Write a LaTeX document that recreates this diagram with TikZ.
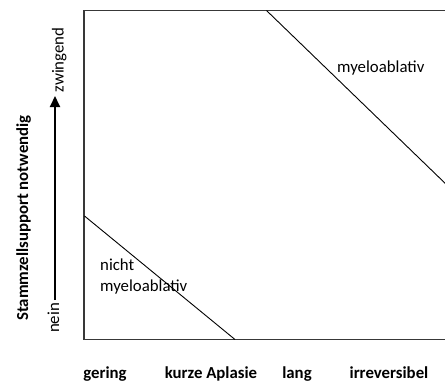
\documentclass[tikz,border=0pt]{standalone}
\usepackage{fontspec}
\setmainfont{Carlito}
\usetikzlibrary{arrows.meta}
\begin{document}
\begin{tikzpicture}[x=1pt,y=-1pt,
  frame/.style={draw=black!78,line width=1.4pt},
  diag/.style={draw=black,line width=0.9pt},
  lbl/.style={font=\fontsize{16.8}{21}\selectfont,inner sep=0pt},
  blbl/.style={font=\fontsize{16.8}{21}\selectfont\bfseries,inner sep=0pt},
  axisarrow/.style={draw=black,line width=2pt,-{Triangle[length=11pt,width=10pt]}}]
\clip (0,0) rectangle (445,383);
% frame
\coordinate (tl) at (84,10.5);
\coordinate (br) at (452,339.5);
\draw[frame] (tl) rectangle (br);
% diagonals
\coordinate (u1) at (266.5,10.5);
\coordinate (u2) at (450,188);
\coordinate (l1) at (84.5,216);
\coordinate (l2) at (235,339.5);
\draw[diag] (u1) -- (u2);
\draw[diag] (l1) -- (l2);
% region labels
\node[lbl,anchor=base west] (myelo) at (337,72) {myeloablativ};
\node[lbl,anchor=base west,align=left] (nicht) at (100,291) {nicht\\myeloablativ};
% axis arrow
\coordinate (a1) at (55,300);
\coordinate (a2) at (55,96);
\draw[axisarrow] (a1) -- (a2);
\node[lbl,rotate=90,anchor=base] (nein) at (59,318) {nein};
\node[lbl,rotate=90,anchor=base] (zw) at (63.5,60) {zwingend};
\node[blbl,rotate=90,anchor=base] (ylab) at (28,218) {Stammzellsupport notwendig};
% bottom labels
\node[blbl,anchor=base] (g) at (105,378) {gering};
\node[blbl,anchor=base] (k) at (211,378) {kurze Aplasie};
\node[blbl,anchor=base] (la) at (297,378) {lang};
\node[blbl,anchor=base] (ir) at (389,378) {irreversibel};
\end{tikzpicture}
\end{document}
